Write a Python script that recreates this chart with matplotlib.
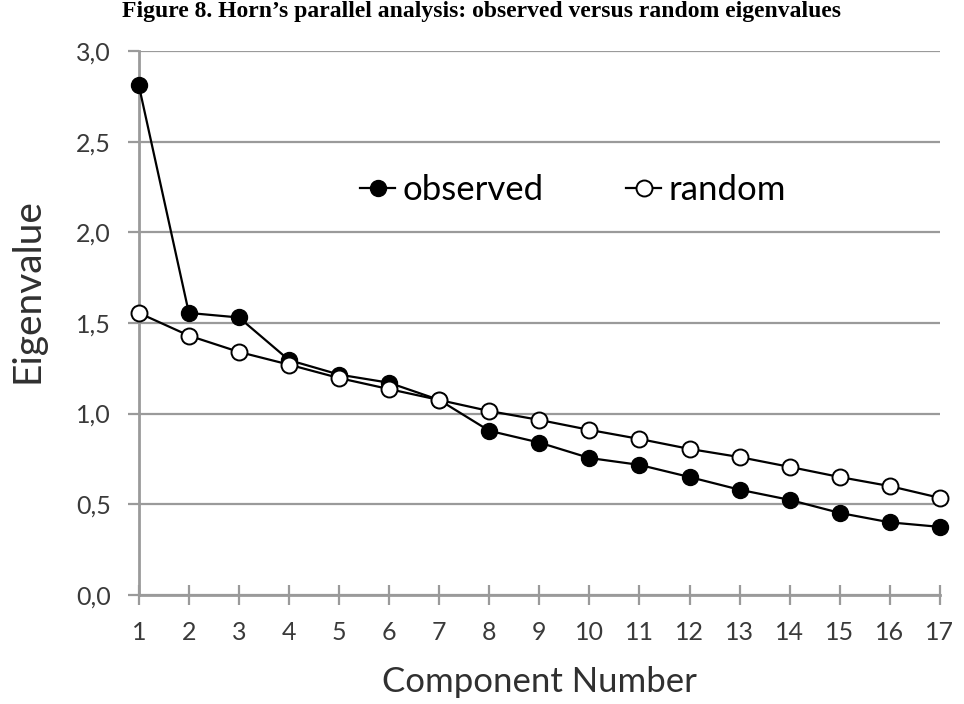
import matplotlib
matplotlib.use("Agg")
import matplotlib.pyplot as plt

components = list(range(1, 18))
observed = [2.81, 1.555, 1.53, 1.295, 1.215, 1.17, 1.075, 0.905, 0.84,
            0.755, 0.717, 0.65, 0.58, 0.524, 0.452, 0.40, 0.375]
random_eig = [1.555, 1.43, 1.34, 1.27, 1.196, 1.135, 1.075, 1.014, 0.965,
              0.91, 0.86, 0.805, 0.76, 0.706, 0.65, 0.60, 0.535]
y_ticks = [0.0, 0.5, 1.0, 1.5, 2.0, 2.5, 3.0]
y_labels = ["0,0", "0,5", "1,0", "1,5", "2,0", "2,5", "3,0"]

grey = "#9a9a9a"
plt.rcParams["font.family"] = ["Lato", "DejaVu Sans"]

fig = plt.figure(figsize=(9.64, 7.04), dpi=100)
ax = fig.add_axes([0.144, 0.155, 0.831, 0.7726])

ax.plot(components, observed, color="black", linewidth=1.6, marker="o",
        markersize=11.5, markerfacecolor="black", markeredgecolor="black",
        label="observed", clip_on=False, zorder=3)
ax.plot(components, random_eig, color="black", linewidth=1.6, marker="o",
        markersize=11.5, markerfacecolor="white", markeredgecolor="black",
        markeredgewidth=1.4, label="random", clip_on=False, zorder=4)

ax.set_xlim(1, 17)
ax.set_ylim(0, 3.0)
ax.set_xticks(components)
ax.set_yticks(y_ticks)
ax.set_yticklabels(y_labels)
ax.grid(axis="y", color=grey, linewidth=1.6)
ax.set_axisbelow(True)

for side in ["top", "right"]:
    ax.spines[side].set_visible(False)
for side in ["left", "bottom"]:
    ax.spines[side].set_color(grey)
    ax.spines[side].set_linewidth(2)

ax.tick_params(axis="y", direction="out", length=8, width=1.6, color=grey,
               labelsize=18, labelcolor="#3a3a3a", pad=12)
ax.tick_params(axis="x", direction="inout", length=14, width=1.6, color=grey,
               labelsize=18, labelcolor="#3a3a3a", pad=12)

ax.set_ylabel("Eigenvalue", fontsize=28, color="#303030")
ax.yaxis.set_label_coords(-0.117, 0.56)
ax.set_xlabel("Component Number", fontsize=25, color="#303030")
ax.xaxis.set_label_coords(0.5, -0.13)

ax.legend(loc="center", bbox_to_anchor=(0.542, 0.745), ncol=2, frameon=False,
          fontsize=25, handlelength=1.0, handletextpad=0.2, columnspacing=2.4)

fig.text(0.5, 0.984, "Figure 8. Horn\u2019s parallel analysis: observed versus random eigenvalues",
         ha="center", va="center", fontsize=17, fontweight="bold",
         family=["Liberation Serif", "DejaVu Serif"])

fig.savefig("out.png", dpi=100)
